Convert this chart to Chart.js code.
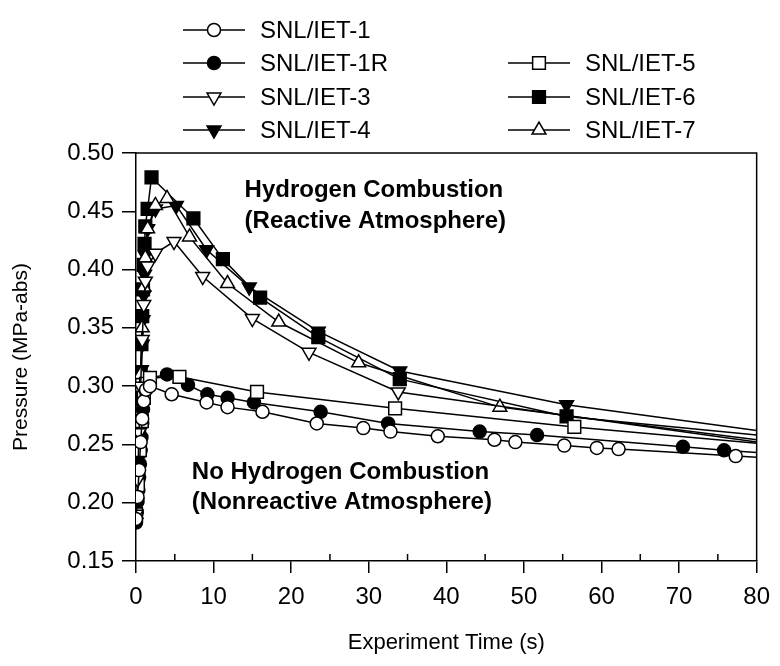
<!DOCTYPE html>
<html>
<head>
<meta charset="utf-8">
<script src="https://cdn.jsdelivr.net/npm/chart.js@4.4.1/dist/chart.umd.min.js"></script>
<style>
  body { margin: 0; background: #fff; }
  #wrap { width: 780px; height: 666px; }
</style>
</head>
<body>
<div id="wrap"><canvas id="pressChart"></canvas></div>
<script>
// Données : temps (s) et pression (MPa-abs)
const names = ['SNL/IET-1', 'SNL/IET-1R', 'SNL/IET-3', 'SNL/IET-4', 'SNL/IET-5', 'SNL/IET-6', 'SNL/IET-7'];

const t1 = [0, 0.2, 0.4, 0.6, 0.8, 1.0, 1.3, 1.8, 4.6, 9.1, 11.8, 16.3, 23.3, 29.3, 32.8, 38.9, 46.2, 48.9, 55.2, 59.4, 62.2, 77.3, 80];
const p1 = [0.186, 0.205, 0.228, 0.252, 0.272, 0.287, 0.297, 0.300, 0.293, 0.286, 0.282, 0.278, 0.268, 0.264, 0.261, 0.257, 0.254, 0.252, 0.249, 0.247, 0.246, 0.240, 0.239];

const t1R = [0, 0.1, 0.2, 0.3, 0.4, 0.5, 0.6, 0.7, 0.8, 0.9, 1.0, 1.3, 1.8, 4.0, 6.7, 9.2, 11.8, 15.2, 23.8, 32.5, 44.3, 51.7, 70.5, 75.8, 80];
const p1R = [0.183, 0.192, 0.201, 0.211, 0.222, 0.233, 0.245, 0.256, 0.268, 0.280, 0.290, 0.304, 0.307, 0.310, 0.301, 0.293, 0.290, 0.286, 0.278, 0.268, 0.261, 0.258, 0.248, 0.245, 0.243];

const t3 = [0, 0.2, 0.4, 0.6, 0.8, 1.0, 1.2, 1.5, 2.5, 4.9, 8.6, 15.0, 22.3, 33.8, 80];
const p3 = [0.190, 0.220, 0.260, 0.300, 0.340, 0.370, 0.390, 0.403, 0.414, 0.424, 0.394, 0.358, 0.329, 0.295, 0.252];

const t4 = [0, 0.1, 0.2, 0.3, 0.4, 0.5, 0.6, 0.7, 0.8, 0.9, 1.0, 1.1, 1.2, 1.5, 2.5, 5.2, 9.1, 14.6, 23.5, 34.0, 55.5, 80];
const p4 = [0.188, 0.200, 0.215, 0.232, 0.250, 0.270, 0.292, 0.314, 0.336, 0.357, 0.378, 0.396, 0.412, 0.435, 0.452, 0.455, 0.417, 0.385, 0.347, 0.313, 0.284, 0.262];

const t5 = [0, 0.25, 0.5, 0.75, 1.0, 1.3, 1.8, 5.6, 15.6, 33.4, 56.5, 80];
const p5 = [0.190, 0.215, 0.245, 0.270, 0.290, 0.302, 0.307, 0.308, 0.295, 0.281, 0.265, 0.251];

const t6 = [0, 0.1, 0.2, 0.3, 0.4, 0.5, 0.6, 0.7, 0.8, 0.9, 1.0, 1.1, 1.2, 1.5, 2.0, 7.4, 11.2, 16.0, 23.5, 34.0, 55.5, 80];
const p6 = [0.190, 0.206, 0.224, 0.244, 0.266, 0.289, 0.312, 0.336, 0.360, 0.383, 0.404, 0.422, 0.437, 0.452, 0.479, 0.444, 0.409, 0.376, 0.342, 0.306, 0.274, 0.258];

const t7 = [0, 0.2, 0.4, 0.6, 0.8, 1.0, 1.2, 1.5, 2.5, 4.0, 6.9, 11.8, 18.4, 28.7, 46.9, 80];
const p7 = [0.190, 0.225, 0.270, 0.310, 0.350, 0.385, 0.410, 0.435, 0.455, 0.461, 0.428, 0.388, 0.355, 0.320, 0.282, 0.254];

const xTicks = [0, 10, 20, 30, 40, 50, 60, 70, 80];
const yTicks = [0.15, 0.20, 0.25, 0.30, 0.35, 0.40, 0.45, 0.50];
const minorX = [5, 15, 25, 35, 45, 55, 65, 75];

const notes = [
  { text: 'Hydrogen Combustion', t: 14, p: 0.468 },
  { text: '(Reactive Atmosphere)', t: 14, p: 0.441 },
  { text: 'No Hydrogen Combustion', t: 7.2, p: 0.226 },
  { text: '(Nonreactive Atmosphere)', t: 7.2, p: 0.200 }
];

// styles des marqueurs (ordre de la légende)
const series = [
  { t: t1,  p: p1,  style: 'circle',   rot: 0,   fill: '#fff', r: 6.5 },
  { t: t1R, p: p1R, style: 'circle',   rot: 0,   fill: '#000', r: 6.5 },
  { t: t3,  p: p3,  style: 'triangle', rot: 180, fill: '#fff', r: 8 },
  { t: t4,  p: p4,  style: 'triangle', rot: 180, fill: '#000', r: 8 },
  { t: t5,  p: p5,  style: 'rect',     rot: 0,   fill: '#fff', r: 9 },
  { t: t6,  p: p6,  style: 'rect',     rot: 0,   fill: '#000', r: 9 },
  { t: t7,  p: p7,  style: 'triangle', rot: 0,   fill: '#fff', r: 8 }
];
// ordre de dessin : symboles pleins par-dessus
const drawOrder = [0, 2, 4, 6, 1, 3, 5];

// position de la légende (pixels)
const legendSlots = [
  { x: 183, y: 30 }, { x: 183, y: 63 }, { x: 183, y: 97 }, { x: 183, y: 130 },
  { x: 508, y: 63 }, { x: 508, y: 97 }, { x: 508, y: 130 }
];

Chart.defaults.font.family = '"Liberation Sans", Arial, sans-serif';
Chart.defaults.color = '#000';

const datasets = drawOrder.map(i => {
  const s = series[i];
  return {
    label: names[i],
    data: s.t.map((v, k) => ({ x: v, y: s.p[k] })),
    borderColor: '#000',
    borderWidth: 1.5,
    pointStyle: s.style,
    pointRotation: s.rot,
    pointBackgroundColor: s.fill,
    pointBorderColor: '#000',
    pointBorderWidth: 1.5,
    pointRadius: c => (c.dataIndex === s.t.length - 1 ? 0 : s.r),
    tension: 0,
    fill: false
  };
});

const extras = {
  id: 'extras',
  afterDraw(chart) {
    const { ctx, chartArea: a, scales: { x, y } } = chart;
    ctx.save();
    ctx.strokeStyle = '#000';
    ctx.lineWidth = 1.5;
    ctx.beginPath();
    ctx.moveTo(a.left, a.top);
    ctx.lineTo(a.right, a.top);
    ctx.lineTo(a.right, a.bottom);
    minorX.forEach(v => {
      const px = x.getPixelForValue(v);
      ctx.moveTo(px, a.bottom);
      ctx.lineTo(px, a.bottom - 7);
    });
    ctx.stroke();

    ctx.fillStyle = '#000';
    ctx.textBaseline = 'middle';
    ctx.font = 'bold 24px "Liberation Sans", Arial, sans-serif';
    notes.forEach(n => ctx.fillText(n.text, x.getPixelForValue(n.t), y.getPixelForValue(n.p)));

    // légende
    ctx.font = '24px "Liberation Sans", Arial, sans-serif';
    legendSlots.forEach((slot, i) => {
      const s = series[i];
      ctx.strokeStyle = '#000';
      ctx.lineWidth = 1.5;
      ctx.beginPath();
      ctx.moveTo(slot.x, slot.y);
      ctx.lineTo(slot.x + 62, slot.y);
      ctx.stroke();
      ctx.fillStyle = s.fill;
      Chart.helpers.drawPoint(ctx, { pointStyle: s.style, radius: s.r, rotation: s.rot, borderWidth: 1.5 }, slot.x + 31, slot.y);
      ctx.fillStyle = '#000';
      ctx.fillText(names[i], slot.x + 77, slot.y + 1);
    });
    ctx.restore();
  }
};

new Chart(document.getElementById('pressChart'), {
  type: 'line',
  data: { datasets },
  options: {
    responsive: true,
    maintainAspectRatio: false,
    animation: false,
    layout: { padding: { top: 153, right: 19, left: 0, bottom: 0 } },
    plugins: { legend: { display: false }, tooltip: { enabled: false } },
    scales: {
      x: {
        type: 'linear',
        min: 0, max: 80,
        afterFit: sc => { sc.height = 105; },
        afterBuildTicks: sc => { sc.ticks = xTicks.map(v => ({ value: v })); },
        ticks: { font: { size: 24 }, padding: 10, maxRotation: 0 },
        grid: { drawOnChartArea: false, tickLength: 12, color: '#000', lineWidth: 1.5 },
        border: { color: '#000', width: 1.5 },
        title: { display: true, text: 'Experiment Time (s)', font: { size: 22 }, padding: { top: 0, bottom: 10 } }
      },
      y: {
        min: 0.15, max: 0.5,
        afterFit: sc => { sc.width = 136; },
        afterBuildTicks: sc => { sc.ticks = yTicks.map(v => ({ value: v })); },
        ticks: { font: { size: 24 }, padding: 8, callback: v => v.toFixed(2) },
        grid: { drawOnChartArea: false, tickLength: 14, color: '#000', lineWidth: 1.5 },
        border: { color: '#000', width: 1.5 },
        title: { display: true, text: 'Pressure (MPa-abs)', font: { size: 21 }, padding: { top: 9 } }
      }
    }
  },
  plugins: [extras]
});
</script>
</body>
</html>
